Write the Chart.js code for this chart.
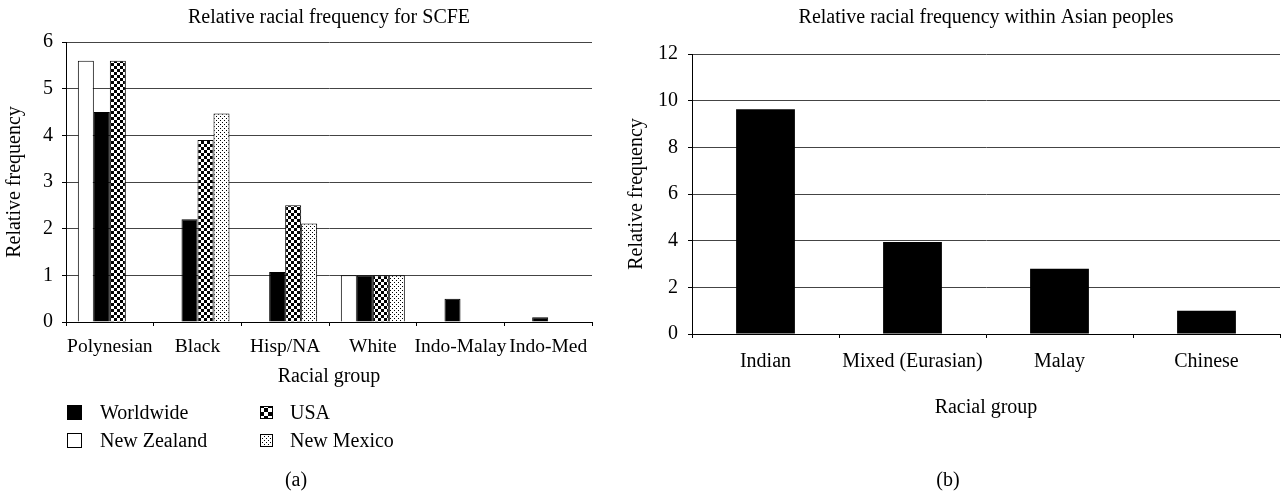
<!DOCTYPE html>
<html>
<head>
<meta charset="utf-8">
<script src="https://cdn.jsdelivr.net/npm/chart.js@4.4.1/dist/chart.umd.min.js"></script>
<style>
  html, body { margin: 0; padding: 0; background: #fff; }
  #wrap { position: relative; width: 1281px; height: 495px; overflow: hidden; background: #fff; }
  canvas { position: absolute; top: 0; }
  #scfe { left: 0; }
  #asian { left: 600px; }
</style>
</head>
<body>
<div id="wrap">
  <canvas id="scfe" width="600" height="495"></canvas>
  <canvas id="asian" width="681" height="495"></canvas>
</div>
<script>
// Panel (a): relative racial frequency for SCFE
const scfeGroups = ['Polynesian', 'Black', 'Hisp/NA', 'White', 'Indo-Malay', 'Indo-Med'];
const newZealand = [5.6, null, null, 1, null, null];
const worldwide  = [4.5, 2.2, 1.07, 1, 0.5, 0.1];
const usa        = [5.6, 3.9, 2.5, 1, null, null];
const newMexico  = [null, 4.47, 2.11, 1, null, null];
const scfeTicks  = [0, 1, 2, 3, 4, 5, 6];

// Panel (b): relative racial frequency within Asian peoples
const asianGroups = ['Indian', 'Mixed (Eurasian)', 'Malay', 'Chinese'];
const asianValues = [9.63, 3.94, 2.8, 1];
const asianTicks  = [0, 2, 4, 6, 8, 10, 12];

const SERIF = "'Liberation Serif', 'Times New Roman', serif";
Chart.defaults.font.family = SERIF;
Chart.defaults.font.size = 20;
Chart.defaults.color = '#000';

// Fill patterns for the hatched series
function makePattern(w, h, paint) {
  const c = document.createElement('canvas');
  c.width = w; c.height = h;
  const g = c.getContext('2d');
  g.fillStyle = '#fff';
  g.fillRect(0, 0, w, h);
  g.fillStyle = '#000';
  paint(g);
  return g.createPattern(c, 'repeat');
}
const checker = makePattern(6, 6, g => { g.fillRect(0, 0, 3, 3); g.fillRect(3, 3, 3, 3); });
const checkerBig = makePattern(8, 8, g => { g.fillRect(0, 0, 4, 4); g.fillRect(4, 4, 4, 4); });
const dots = makePattern(4, 4, g => { g.fillRect(0, 0, 1, 1); g.fillRect(2, 2, 1, 1); });

const GRID = '#444';

function yScale(ticksList, max, width, titlePad, tickPad) {
  return {
    min: 0, max: max,
    ticks: { padding: tickPad, font: { size: 20 } },
    grid: { color: GRID, lineWidth: 1, tickLength: 4, tickColor: '#000', drawTicks: true },
    border: { display: true, color: '#000', width: 1 },
    title: { display: true, text: 'Relative frequency', font: { size: 20 }, padding: { top: titlePad, bottom: 0 } },
    afterFit: s => { s.width = width; },
    afterBuildTicks: s => { s.ticks = ticksList.map(v => ({ value: v })); }
  };
}

function xScale(height, tickPad, tickSize) {
  return {
    offset: true,
    ticks: { padding: tickPad, font: { size: tickSize }, maxRotation: 0, autoSkip: false },
    grid: { offset: true, drawOnChartArea: false, drawTicks: true, tickLength: 4, color: '#000', tickColor: '#000' },
    border: { display: true, color: '#000', width: 1 },
    title: { display: true, text: 'Racial group', font: { size: 20 }, padding: { top: 0, bottom: 3 } },
    afterFit: s => { s.height = height; }
  };
}

// Legend and panel caption for (a)
const scfeExtras = {
  id: 'scfeExtras',
  afterDraw(chart) {
    const ctx = chart.ctx;
    const byLabel = {};
    chart.data.datasets.forEach(d => { byLabel[d.label] = d; });
    const items = [
      { label: 'Worldwide',   x: 67,  y: 405, size: 15, tx: 100, ty: 419 },
      { label: 'New Zealand', x: 67,  y: 433, size: 15, tx: 100, ty: 447 },
      { label: 'USA',         x: 260, y: 406, size: 13, tx: 290, ty: 419 },
      { label: 'New Mexico',  x: 260, y: 434, size: 13, tx: 290, ty: 447 }
    ];
    ctx.save();
    ctx.font = '20px ' + SERIF;
    ctx.textBaseline = 'alphabetic';
    ctx.textAlign = 'left';
    items.forEach(it => {
      const ds = byLabel[it.label];
      ctx.fillStyle = ds.legendFill || ds.backgroundColor;
      ctx.fillRect(it.x, it.y, it.size, it.size);
      ctx.strokeStyle = '#000';
      ctx.lineWidth = 1;
      ctx.strokeRect(it.x + 0.5, it.y + 0.5, it.size - 1, it.size - 1);
      ctx.fillStyle = '#000';
      ctx.fillText(it.label, it.tx, it.ty);
    });
    ctx.textAlign = 'center';
    ctx.textBaseline = 'middle';
    ctx.fillText('(a)', 296, 481);
    ctx.restore();
  }
};

const asianExtras = {
  id: 'asianExtras',
  afterDraw(chart) {
    const ctx = chart.ctx;
    ctx.save();
    ctx.font = '20px ' + SERIF;
    ctx.fillStyle = '#000';
    ctx.textAlign = 'center';
    ctx.textBaseline = 'middle';
    ctx.fillText('(b)', 348, 481);
    ctx.restore();
  }
};

function barSet(label, data, fill, legendFill) {
  return {
    label, data,
    backgroundColor: fill,
    legendFill: legendFill,
    borderColor: '#000',
    borderWidth: 1,
    borderSkipped: 'bottom',
    categoryPercentage: 0.73,
    barPercentage: 1.0
  };
}

new Chart(document.getElementById('scfe'), {
  type: 'bar',
  data: {
    labels: scfeGroups,
    datasets: [
      barSet('New Zealand', newZealand, '#fff'),
      barSet('Worldwide', worldwide, '#000'),
      barSet('USA', usa, checker, checkerBig),
      barSet('New Mexico', newMexico, dots)
    ]
  },
  options: {
    responsive: false,
    animation: false,
    layout: { padding: { left: 0, right: 8, top: 0, bottom: 103 } },
    plugins: {
      legend: { display: false },
      tooltip: { enabled: false },
      title: {
        display: true,
        fullSize: false,
        text: 'Relative racial frequency for SCFE',
        font: { size: 20, weight: 'normal' },
        padding: { top: 6, bottom: 12 }
      }
    },
    scales: {
      x: xScale(70, 9, 19.5),
      y: yScale(scfeTicks, 6, 66, 3, 9)
    }
  },
  plugins: [scfeExtras]
});

new Chart(document.getElementById('asian'), {
  type: 'bar',
  data: {
    labels: asianGroups,
    datasets: [{
      label: 'Relative frequency',
      data: asianValues,
      backgroundColor: '#000',
      borderColor: '#000',
      borderWidth: 0,
      categoryPercentage: 0.4,
      barPercentage: 1.0
    }]
  },
  options: {
    responsive: false,
    animation: false,
    layout: { padding: { left: 0, right: 1, top: 0, bottom: 72 } },
    plugins: {
      legend: { display: false },
      tooltip: { enabled: false },
      title: {
        display: true,
        fullSize: false,
        text: 'Relative racial frequency within Asian peoples',
        font: { size: 20, weight: 'normal' },
        padding: { top: 6, bottom: 24 }
      }
    },
    scales: {
      x: xScale(89, 12, 20),
      y: yScale(asianTicks, 12, 92, 25, 10)
    }
  },
  plugins: [asianExtras]
});
</script>
</body>
</html>
